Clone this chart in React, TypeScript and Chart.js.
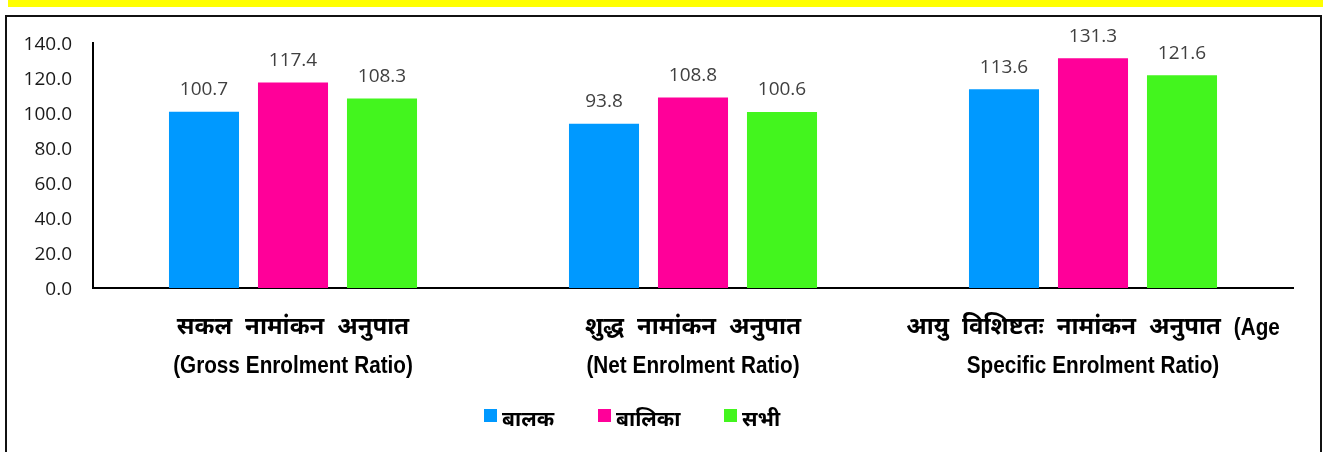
import React, { useEffect, useRef } from "react";
import { Chart, registerables } from "chart.js";

Chart.register(...registerables);

// ---- data ----
const categoryLines: string[][] = [
  ["सकल नामांकन अनुपात", "(Gross Enrolment Ratio)"],
  ["शुद्ध नामांकन अनुपात", "(Net Enrolment Ratio)"],
  ["आयु विशिष्टतः नामांकन अनुपात (Age", "Specific Enrolment Ratio)"],
];
const seriesNames = ["बालक", "बालिका", "सभी"];
const boysValues = [100.7, 93.8, 113.6];
const girlsValues = [117.4, 108.8, 131.3];
const allValues = [108.3, 100.6, 121.6];
const yMin = 0;
const yMax = 140;
const yStep = 20;

const seriesColors = ["#0099FF", "#FF0099", "#43F51E"];

const DEV_FONT = '"Noto Sans Devanagari", "Lohit Devanagari", "Mukta", "FreeSans", "Noto Sans", sans-serif';
const LATIN_FONT = '"Liberation Sans", Arial, sans-serif';
const NUM_FONT = '"Open Sans", "Noto Sans", sans-serif';

const isDev = (s: string) => /[\u0900-\u097F]/.test(s);

function drawMixedLine(ctx: any, text: string, cx: number, y: number) {
  const words = text.split(" ");
  const devFont = `bold 24px ${DEV_FONT}`;
  const latFont = `bold 23px ${LATIN_FONT}`;
  const latScale = 0.9;
  const widths = words.map((w) => {
    if (isDev(w)) {
      ctx.font = devFont;
      return ctx.measureText(w).width;
    }
    ctx.font = latFont;
    return ctx.measureText(w).width * latScale;
  });
  const gaps: number[] = [];
  for (let i = 0; i < words.length - 1; i++) {
    const bothLatin = !isDev(words[i]) && !isDev(words[i + 1]);
    gaps.push(bothLatin ? 6 : 13);
  }
  const total = widths.reduce((a, b) => a + b, 0) + gaps.reduce((a, b) => a + b, 0);
  let x = cx - total / 2;
  ctx.textAlign = "left";
  ctx.textBaseline = "middle";
  words.forEach((w, i) => {
    if (isDev(w)) {
      ctx.font = devFont;
      ctx.fillText(w, x, y + 1);
    } else {
      ctx.font = latFont;
      ctx.save();
      ctx.translate(x, y);
      ctx.scale(latScale, 1);
      ctx.fillText(w, 0, 0);
      ctx.restore();
    }
    x += widths[i] + (i < gaps.length ? gaps[i] : 0);
  });
}

const valueLabelPlugin = {
  id: "valueLabels",
  afterDatasetsDraw(chart: any) {
    const ctx = chart.ctx;
    ctx.save();
    ctx.font = `19px ${NUM_FONT}`;
    ctx.fillStyle = "#404040";
    ctx.textAlign = "center";
    ctx.textBaseline = "middle";
    chart.data.datasets.forEach((ds: any, di: number) => {
      const meta = chart.getDatasetMeta(di);
      meta.data.forEach((bar: any, i: number) => {
        const v = ds.data[i];
        ctx.fillText(Number(v).toFixed(1), bar.x, bar.y - 22);
      });
    });
    ctx.restore();
  },
};

const categoryLabelPlugin = {
  id: "categoryLabels",
  afterDraw(chart: any) {
    const ctx = chart.ctx;
    const xs = chart.scales.x;
    const bottom = chart.chartArea.bottom;
    ctx.save();
    ctx.fillStyle = "#000000";
    categoryLines.forEach((lines, i) => {
      const x = xs.getPixelForValue(i);
      lines.forEach((line, li) => {
        drawMixedLine(ctx, line, x, bottom + 41 + li * 38);
      });
    });
    ctx.restore();
  },
};

const legendPlugin = {
  id: "customLegend",
  afterDraw(chart: any) {
    const ctx = chart.ctx;
    const boxX = [484, 598, 724];
    ctx.save();
    ctx.font = `bold 21px ${DEV_FONT}`;
    ctx.textAlign = "left";
    ctx.textBaseline = "middle";
    chart.data.datasets.forEach((ds: any, i: number) => {
      ctx.fillStyle = ds.backgroundColor;
      ctx.fillRect(boxX[i], 409, 13, 13);
      ctx.fillStyle = "#000000";
      ctx.fillText(ds.label, boxX[i] + 18, 422);
    });
    ctx.restore();
  },
};

export default function App() {
  const canvasRef = useRef<HTMLCanvasElement | null>(null);

  useEffect(() => {
    document.body.style.margin = "0";
    const canvas = canvasRef.current;
    if (!canvas) return;
    const chart = new Chart(canvas, {
      type: "bar",
      data: {
        labels: categoryLines.map((l) => l.join(" ")),
        datasets: [
          { label: seriesNames[0], data: boysValues, backgroundColor: seriesColors[0] },
          { label: seriesNames[1], data: girlsValues, backgroundColor: seriesColors[1] },
          { label: seriesNames[2], data: allValues, backgroundColor: seriesColors[2] },
        ],
      },
      options: {
        responsive: false,
        animation: false,
        devicePixelRatio: 1,
        layout: { padding: { top: 43, right: 30, bottom: 0, left: 0 } },
        datasets: {
          bar: { categoryPercentage: 0.6675, barPercentage: 0.787 },
        },
        plugins: {
          legend: { display: false },
          tooltip: { enabled: false },
        },
        scales: {
          x: {
            grid: { display: false, drawTicks: false },
            border: { display: true, color: "#000000", width: 2 },
            ticks: { display: false },
            afterFit(scale: any) {
              scale.height = 164;
            },
          },
          y: {
            min: yMin,
            max: yMax,
            grid: { display: false, drawTicks: false },
            border: { display: true, color: "#000000", width: 2 },
            ticks: {
              stepSize: yStep,
              padding: 21,
              labelOffset: 2,
              color: "#1a1a1a",
              font: { family: NUM_FONT, size: 19 },
              callback: (v: any) => Number(v).toFixed(1),
            },
            afterFit(scale: any) {
              scale.width = 93;
            },
          },
        },
      },
      plugins: [valueLabelPlugin, categoryLabelPlugin, legendPlugin],
    });
    return () => chart.destroy();
  }, []);

  return (
    <div style={{ position: "relative", width: 1323, height: 452, overflow: "hidden", background: "#ffffff" }}>
      <div style={{ position: "absolute", left: 8, top: 0, width: 1315, height: 7, background: "#FFFF00" }} />
      <div
        style={{
          position: "absolute",
          left: 5,
          top: 15,
          width: 1313,
          height: 460,
          border: "2px solid #111111",
          boxSizing: "content-box",
        }}
      />
      <canvas
        ref={canvasRef}
        width={1323}
        height={452}
        style={{ position: "absolute", left: 0, top: 0, width: 1323, height: 452 }}
      />
    </div>
  );
}
